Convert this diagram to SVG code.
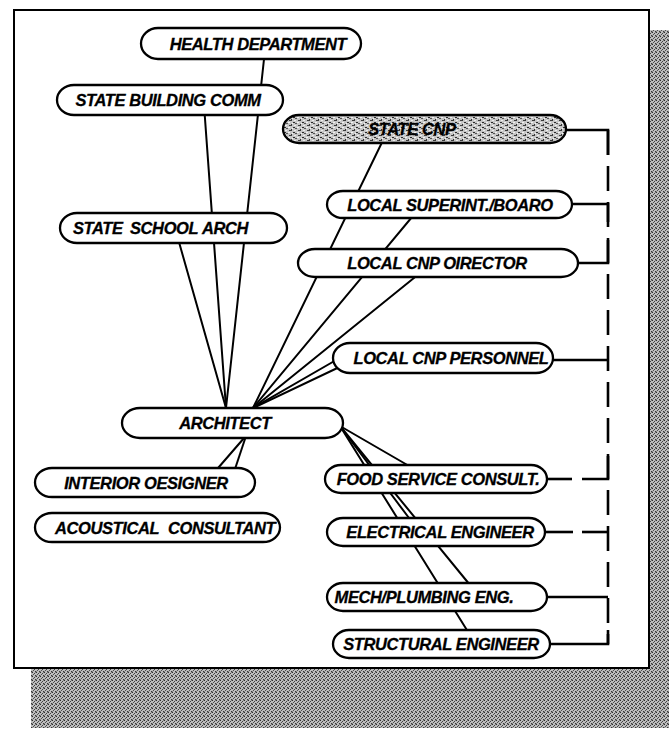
<svg xmlns="http://www.w3.org/2000/svg" width="669" height="731" viewBox="0 0 669 731">
  <style>
    .pill { fill: #ffffff; stroke: #000000; stroke-width: 2.3; }
    .lbl { font-family: "Liberation Sans", Arial, sans-serif; font-weight: bold; font-style: italic; font-size: 16.5px; letter-spacing: -0.4px; fill: #000000; stroke: #000000; stroke-width: 0.3; text-anchor: middle; }
    .lbl-l { text-anchor: start; }
    .link { stroke: #000000; stroke-width: 2; fill: none; stroke-linecap: round; }
    .bus { stroke: #000000; stroke-width: 2.6; fill: none; }
    .bus-dash { stroke-dasharray: 25 11; }
  </style>
  <defs>
    <!-- dithered grey used for the drop shadow -->
    <pattern id="dither" width="4" height="4" patternUnits="userSpaceOnUse">
      <rect width="4" height="4" fill="#bdbdbd"/>
      <rect x="0" y="0" width="1" height="1" fill="#2e2e2e"/>
      <rect x="2" y="1" width="1" height="1" fill="#404040"/>
      <rect x="1" y="2" width="1" height="1" fill="#4e4e4e"/>
      <rect x="3" y="3" width="1" height="1" fill="#3a3a3a"/>
      <rect x="3" y="0" width="1" height="1" fill="#808080"/>
      <rect x="0" y="3" width="1" height="1" fill="#868686"/>
    </pattern>
    <!-- speckled fill for the highlighted node -->
    <pattern id="speckle" width="9" height="5" patternUnits="userSpaceOnUse">
      <rect width="9" height="5" fill="#c6c6c6"/>
      <rect x="1" y="0" width="3" height="1" fill="#3a3a3a"/>
      <rect x="5" y="2" width="2" height="1" fill="#2a2a2a"/>
      <rect x="7" y="3" width="2" height="1" fill="#555"/>
      <rect x="3" y="4" width="1" height="1" fill="#333"/>
      <rect x="0" y="2" width="2" height="1" fill="#f2f2f2"/>
      <rect x="6" y="0" width="2" height="1" fill="#eeeeee"/>
      <rect x="4" y="3" width="1" height="1" fill="#f6f6f6"/>
    </pattern>
  </defs>

  <!-- page with drop shadow -->
  <rect x="0" y="0" width="669" height="731" fill="#ffffff"/>
  <rect x="31" y="30" width="640" height="698" fill="url(#dither)"/>
  <rect x="14" y="10" width="635" height="658" fill="#ffffff" stroke="#000000" stroke-width="2"/>

  <!-- connectors -->
  <g id="connectors">
    <!-- upper-left chain into ARCHITECT -->
    <line class="link" x1="265" y1="50" x2="226" y2="408"/>
    <line class="link" x1="204" y1="105" x2="226" y2="408"/>
    <line class="link" x1="177" y1="235" x2="226" y2="408"/>
    <!-- upper-right fan into ARCHITECT -->
    <line class="link" x1="388" y1="130" x2="253" y2="408"/>
    <line class="link" x1="422" y1="205" x2="253" y2="408"/>
    <line class="link" x1="430" y1="265" x2="253" y2="408"/>
    <line class="link" x1="350" y1="352" x2="253" y2="408"/>
    <line class="link" x1="350" y1="362" x2="253" y2="408"/>
    <!-- ARCHITECT to the designers -->
    <line class="link" x1="251" y1="430" x2="212" y2="475"/>
    <line class="link" x1="248" y1="430" x2="233" y2="475"/>
    <!-- ARCHITECT to the engineers -->
    <line class="link" x1="340" y1="426" x2="416" y2="470"/>
    <line class="link" x1="340" y1="426" x2="412" y2="522"/>
    <line class="link" x1="340" y1="426" x2="470" y2="585"/>
    <line class="link" x1="340" y1="426" x2="470" y2="635"/>

    <!-- right-hand bus -->
    <line class="bus bus-dash" x1="608" y1="130" x2="608" y2="644"/>
    <polyline class="bus" points="564,130 608,130 608,155"/>
    <polyline class="bus" points="570,204 608,204 608,222"/>
    <polyline class="bus" points="576,263 608,263 608,240"/>
    <line class="bus" x1="551" y1="360" x2="608" y2="360"/>
    <line class="bus" x1="545" y1="479" x2="572" y2="479"/>
    <polyline class="bus" points="582,479 608,479 608,456"/>
    <line class="bus" x1="543" y1="532" x2="573" y2="532"/>
    <line class="bus" x1="582" y1="532" x2="608" y2="532"/>
    <line class="bus" x1="546" y1="597" x2="608" y2="597"/>
    <polyline class="bus" points="548,644 608,644 608,630"/>
  </g>

  <g id="health-department">
    <rect class="pill" x="141" y="28" width="220" height="31" rx="17" ry="15.5"/>
    <text class="lbl" x="258" y="49.5">HEALTH DEPARTMENT</text>
  </g>
  <g id="state-building-comm">
    <rect class="pill" x="57" y="85" width="226" height="30" rx="17" ry="15"/>
    <text class="lbl" x="168" y="106">STATE BUILDING COMM</text>
  </g>
  <g id="state-cnp">
    <rect x="283" y="115" width="283" height="28" rx="16" ry="14" fill="url(#speckle)" stroke="#000000" stroke-width="2.3"/>
    <text class="lbl" x="412" y="135">STATE CNP</text>
  </g>
  <g id="local-superint-board">
    <rect class="pill" x="327" y="191" width="245" height="27" rx="16" ry="13.5"/>
    <text class="lbl" x="450" y="210.5">LOCAL SUPERINT./BOARO</text>
  </g>
  <g id="state-school-arch">
    <rect class="pill" x="60" y="213" width="227" height="30" rx="17" ry="15"/>
    <text class="lbl lbl-l" y="234"><tspan x="73">STATE</tspan><tspan x="130">SCHOOL</tspan><tspan x="202">ARCH</tspan></text>
  </g>
  <g id="local-cnp-director">
    <rect class="pill" x="298" y="249" width="280" height="28" rx="17" ry="14"/>
    <text class="lbl" x="437" y="269">LOCAL CNP OIRECTOR</text>
  </g>
  <g id="local-cnp-personnel">
    <rect class="pill" x="333" y="343" width="220" height="30" rx="17" ry="15"/>
    <text class="lbl" x="451" y="364">LOCAL CNP PERSONNEL</text>
  </g>
  <g id="architect">
    <rect class="pill" x="122" y="408" width="221" height="30" rx="18" ry="15"/>
    <text class="lbl" x="225" y="429">ARCHITECT</text>
  </g>
  <g id="interior-designer">
    <rect class="pill" x="35" y="468" width="220" height="29" rx="17" ry="14.5"/>
    <text class="lbl" x="146" y="488.5">INTERIOR OESIGNER</text>
  </g>
  <g id="acoustical-consultant">
    <rect class="pill" x="35" y="513" width="245" height="29" rx="17" ry="14.5"/>
    <text class="lbl lbl-l" y="533.5"><tspan x="55">ACOUSTICAL</tspan><tspan x="168">CONSULTANT</tspan></text>
  </g>
  <g id="food-service-consult">
    <rect class="pill" x="325" y="465" width="222" height="28" rx="16" ry="14"/>
    <text class="lbl" x="438" y="485">FOOD SERVICE CONSULT.</text>
  </g>
  <g id="electrical-engineer">
    <rect class="pill" x="327" y="518" width="218" height="28" rx="16" ry="14"/>
    <text class="lbl" x="440" y="538">ELECTRICAL ENGINEER</text>
  </g>
  <g id="mech-plumbing-eng">
    <rect class="pill" x="327" y="583" width="220" height="28" rx="16" ry="14"/>
    <text class="lbl" x="424" y="603">MECH/PLUMBING ENG.</text>
  </g>
  <g id="structural-engineer">
    <rect class="pill" x="333" y="630" width="217" height="28" rx="16" ry="14"/>
    <text class="lbl" x="441" y="650">STRUCTURAL ENGINEER</text>
  </g>
</svg>
